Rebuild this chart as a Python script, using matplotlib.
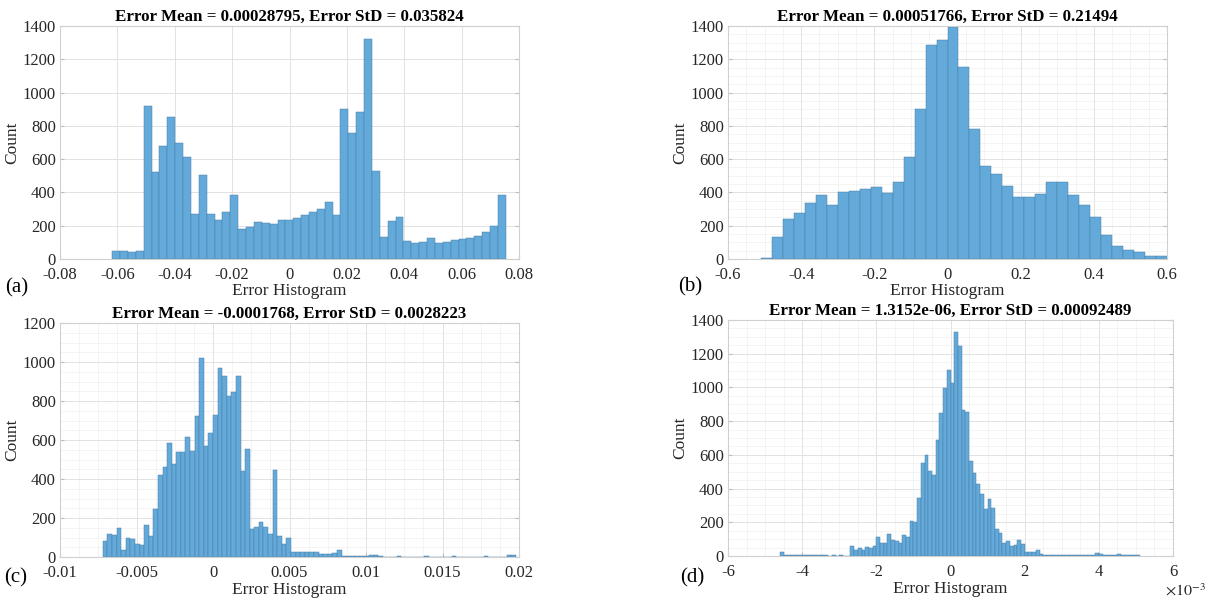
import numpy as np
import matplotlib
matplotlib.use('Agg')
import matplotlib.pyplot as plt
from matplotlib.ticker import MultipleLocator, AutoMinorLocator, FuncFormatter

plt.rcParams['font.family'] = ['Liberation Serif', 'DejaVu Serif']
plt.rcParams['mathtext.fontset'] = 'stix'
plt.rcParams['axes.unicode_minus'] = False

# (a) 50 bins between data min and max
a_lo, a_hi = -0.0618, 0.0754
a_counts = [46, 46, 40, 48, 920, 525, 678, 856, 694, 612,
            269, 505, 273, 233, 281, 385, 178, 190, 221, 219,
            211, 233, 237, 247, 263, 281, 301, 345, 265, 899,
            756, 885, 1324, 527, 130, 229, 251, 106, 98, 100,
            126, 94, 102, 112, 118, 128, 140, 164, 199, 383]
a_title = 'Error Mean = 0.00028795, Error StD = 0.035824'

# (b) bins of width 0.03 starting at -0.51
b_start, b_width = -0.51, 0.03
b_counts = [4, 132, 239, 279, 335, 387, 323, 403, 407, 423,
            431, 397, 465, 614, 899, 1285, 1318, 1395, 1151, 780,
            556, 512, 439, 371, 371, 389, 463, 463, 385, 325,
            253, 142, 78, 56, 42, 16, 16]
b_title = 'Error Mean = 0.00051766, Error StD = 0.21494'

# (c) bins of width 0.0003 starting at -0.0072
c_start, c_width = -0.0072, 0.0003
c_counts = [84, 118, 115, 149, 38, 95, 90, 65, 62, 166,
            110, 246, 423, 459, 586, 477, 537, 538, 615, 545,
            723, 1019, 567, 635, 726, 968, 927, 825, 848, 926,
            443, 553, 142, 156, 178, 156, 118, 447, 108, 67,
            99, 27, 27, 27, 27, 27, 24, 15, 15, 15,
            19, 36, 5, 4, 4, 4, 4, 3, 8, 8,
            3, 2, 2, 1, 3, 2, 0, 2, 1, 2,
            3, 2, 1, 2, 2, 1, 3, 2, 1, 2,
            2, 1, 2, 3, 2, 2, 1, 2, 10, 12]
c_title = 'Error Mean = -0.0001768, Error StD = 0.0028223'

# (d) bins of width 1e-4 starting at -4.6e-3
d_start, d_width = -4.6e-3, 1e-4
d_counts = [24,
            8, 6, 5, 3, 4, 3, 5, 4, 3, 4, 3, 4, 2, 3, 2, 3, 2, 2,
            59, 38, 48, 38, 51, 48, 57, 113, 77, 77,
            133, 95, 89, 78, 123, 113, 208, 204, 343, 549,
            598, 503, 479, 687, 846, 994, 1103, 1028, 1327, 1243,
            865, 855, 564, 493, 430, 370, 279, 337, 287, 162,
            137, 79, 89, 57, 63, 93, 73, 24, 22, 26, 38, 14,
            8, 6, 5, 4, 6, 5, 6, 8, 7, 6, 5, 7, 6, 8, 15, 10, 7, 6, 5, 8,
            12, 5, 4, 8, 7, 8]
d_title = 'Error Mean = 1.3152e-06, Error StD = 0.00092489'

W, H = 1216, 601
fig = plt.figure(figsize=(W / 100, H / 100), dpi=100)


def px_axes(left, top, right, bottom):
    return fig.add_axes([left / W, 1 - bottom / H, (right - left) / W, (bottom - top) / H])


def num(v):
    v = round(v, 10) + 0.0
    return f'{v:g}'


def draw(ax, edges, counts, title, xlim, xstep, ylim, minor=True, scale=1.0, xlabelpad=1):
    edges = np.asarray(edges)
    ax.bar(edges[:-1], counts, width=np.diff(edges), align='edge',
           color='#63a9d9', edgecolor='#4a7fa6', linewidth=0.35, zorder=2)
    ax.set_xlim(*xlim)
    ax.set_ylim(*ylim)
    ax.xaxis.set_major_locator(MultipleLocator(xstep))
    ax.yaxis.set_major_locator(MultipleLocator(200))
    ax.xaxis.set_major_formatter(FuncFormatter(lambda v, p: num(v * scale)))
    ax.grid(True, which='major', color='#e2e2e2', linewidth=0.7, zorder=0)
    if minor:
        ax.xaxis.set_minor_locator(AutoMinorLocator(4))
        ax.yaxis.set_minor_locator(AutoMinorLocator(4))
        ax.grid(True, which='minor', color='#f0f0f0', linewidth=0.5, zorder=0)
        ax.tick_params(which='minor', length=0)
    ax.set_axisbelow(True)
    for s in ax.spines.values():
        s.set_color('#d0d0d0')
        s.set_linewidth(0.8)
    ax.tick_params(which='major', direction='in', length=3, color='#bdbdbd',
                   labelsize=12, labelcolor='#262626', top=False, right=True)
    ax.tick_params(axis='x', pad=5.5)
    ax.tick_params(axis='y', pad=3)
    ax.set_title(title, fontsize=12.2, fontweight='bold', pad=4)
    ax.set_xlabel('Error Histogram', fontsize=12.5, color='#262626', labelpad=xlabelpad)
    ax.set_ylabel('Count', fontsize=12.5, color='#262626', labelpad=2)


ax_a = px_axes(60, 26, 519, 259)
draw(ax_a, np.linspace(a_lo, a_hi, len(a_counts) + 1), a_counts, a_title,
     (-0.08, 0.08), 0.02, (0, 1400), minor=False, xlabelpad=0)

ax_b = px_axes(728, 26, 1167, 259)
draw(ax_b, b_start + b_width * np.arange(len(b_counts) + 1), b_counts, b_title,
     (-0.6, 0.6), 0.2, (0, 1400), xlabelpad=0)

ax_c = px_axes(60, 323, 519, 557)
draw(ax_c, c_start + c_width * np.arange(len(c_counts) + 1), c_counts, c_title,
     (-0.01, 0.02), 0.005, (0, 1200))

ax_d = px_axes(728, 320, 1173, 556)
draw(ax_d, d_start + d_width * np.arange(len(d_counts) + 1), d_counts, d_title,
     (-6e-3, 6e-3), 2e-3, (0, 1400), scale=1e3)
fig.text(1185 / W, 1 - 591 / H, r'$\times10^{-3}$', fontsize=11.5, color='#262626',
         ha='center', va='center')

for lab, x, y in [('(a)', 17, 288), ('(b)', 690, 287), ('(c)', 16, 578), ('(d)', 692, 578)]:
    fig.text(x / W, 1 - y / H, lab, fontsize=15, ha='center', va='center')

fig.savefig('out.png', dpi=100)
